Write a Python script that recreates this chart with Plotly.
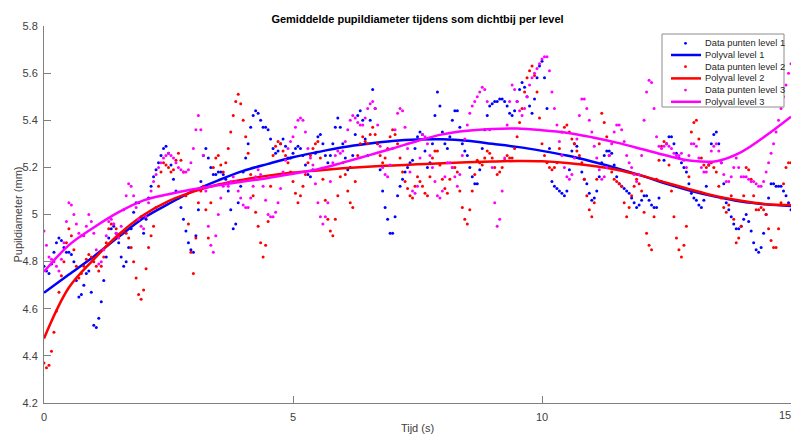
import plotly.graph_objects as go

# ---------------- data ----------------
time_s = [round(i * 0.05, 2) for i in range(301)]

level1_points = [
    4.78, 4.76, 4.75, 4.79, 4.84, 4.88, 4.90, 4.89, 4.86, 4.84,
    4.84, 4.83, 4.80, 4.72, 4.65, 4.66, 4.70, 4.75, 4.76, 4.67,
    4.53, 4.52, 4.56, 4.63, 4.72, 4.82, 4.90, 4.94, 4.95, 4.92,
    4.88, 4.82, 4.78, 4.80, 4.86, 4.94, 5.01, 5.05, 5.05, 4.99,
    4.92, 4.98, 5.07, 5.12, 5.16, 5.19, 5.22, 5.25, 5.28, 5.29,
    5.26, 5.21, 5.15, 5.10, 5.07, 5.03, 4.98, 4.93, 4.88, 4.85,
    4.84, 4.91, 5.02, 5.14, 5.25, 5.28, 5.24, 5.20, 5.17, 5.17,
    5.18, 5.18, 5.17, 5.15, 5.10, 5.02, 4.94, 4.96, 5.05, 5.12,
    5.18, 5.24, 5.30, 5.37, 5.42, 5.44, 5.43, 5.40, 5.37, 5.37,
    5.36, 5.32, 5.28, 5.26, 5.27, 5.30, 5.32, 5.29, 5.24, 5.24,
    5.26, 5.28, 5.29, 5.28, 5.25, 5.21, 5.17, 5.16, 5.19, 5.26,
    5.33, 5.34, 5.30, 5.25, 5.22, 5.25, 5.30, 5.37, 5.41, 5.37,
    5.30, 5.24, 5.19, 5.20, 5.25, 5.34, 5.42, 5.44, 5.40, 5.32,
    5.25, 5.40, 5.53, 5.45, 5.30, 5.19, 5.10, 5.03, 4.98, 4.92,
    4.92, 4.99, 5.08, 5.12, 5.15, 5.18, 5.20, 5.22, 5.23, 5.28,
    5.33, 5.35, 5.34, 5.27, 5.20, 5.22, 5.30, 5.42, 5.52, 5.46,
    5.35, 5.30, 5.28, 5.33, 5.40, 5.44, 5.44, 5.37, 5.30, 5.27,
    5.25, 5.20, 5.16, 5.13, 5.13, 5.19, 5.28, 5.36, 5.42, 5.46,
    5.47, 5.48, 5.48, 5.49, 5.49, 5.48, 5.46, 5.43, 5.42, 5.44,
    5.48, 5.53, 5.56, 5.54, 5.50, 5.46, 5.43, 5.49, 5.58, 5.63,
    5.65, 5.58, 5.45, 5.28, 5.14, 5.12, 5.11, 5.10, 5.09, 5.08,
    5.10, 5.19, 5.27, 5.30, 5.29, 5.24, 5.18, 5.15, 5.13, 5.09,
    5.06, 5.07, 5.10, 5.16, 5.22, 5.25, 5.27, 5.27, 5.26, 5.21,
    5.16, 5.13, 5.12, 5.11, 5.10, 5.09, 5.07, 5.05, 5.03, 5.04,
    5.06, 5.08, 5.08, 5.06, 5.04, 5.03, 5.03, 5.07, 5.14, 5.23,
    5.30, 5.33, 5.33, 5.30, 5.26, 5.24, 5.22, 5.20, 5.18, 5.13,
    5.09, 5.07, 5.06, 5.04, 5.03, 5.06, 5.12, 5.21, 5.30, 5.34,
    5.35, 5.30, 5.22, 5.13, 5.05, 5.02, 4.99, 4.96, 4.94, 4.94,
    4.95, 4.98, 5.00, 4.97, 4.93, 4.88, 4.85, 4.84, 4.86, 4.92,
    5.00, 5.07, 5.13, 5.13, 5.12, 5.12, 5.12, 5.10, 5.08, 5.05,
    5.02,
]

level2_points = [
    4.37, 4.35, 4.36, 4.42, 4.50, 4.59, 4.67, 4.74, 4.80, 4.88,
    4.94, 4.91, 4.85, 4.78, 4.73, 4.75, 4.78, 4.81, 4.83, 4.82,
    4.80, 4.78, 4.76, 4.78, 4.82, 4.88, 4.94, 4.96, 4.96, 4.94,
    4.91, 4.92, 4.93, 4.92, 4.90, 4.86, 4.80, 4.73, 4.66, 4.64,
    4.68, 4.77, 4.86, 4.91, 4.95, 5.03, 5.12, 5.18, 5.22, 5.21,
    5.20, 5.18, 5.19, 5.23, 5.26, 5.23, 5.18, 5.08, 4.96, 4.84,
    4.75, 4.90, 5.05, 5.10, 5.12, 5.02, 4.90, 5.05, 5.20, 5.24,
    5.25, 5.21, 5.18, 5.22, 5.28, 5.35, 5.42, 5.48, 5.51, 5.47,
    5.40, 5.33, 5.26, 5.17, 5.08, 5.01, 4.95, 4.88, 4.82, 4.87,
    4.97, 5.12, 5.25, 5.29, 5.31, 5.30, 5.27, 5.25, 5.22, 5.18,
    5.14, 5.09, 5.05, 5.08, 5.12, 5.17, 5.22, 5.25, 5.28, 5.30,
    5.31, 5.24, 5.15, 5.06, 4.98, 4.93, 4.91, 4.98, 5.08, 5.16,
    5.22, 5.17, 5.10, 5.05, 5.03, 5.14, 5.25, 5.30, 5.33, 5.31,
    5.30, 5.34, 5.37, 5.34, 5.30, 5.25, 5.22, 5.24, 5.28, 5.33,
    5.36, 5.34, 5.30, 5.24, 5.18, 5.14, 5.11, 5.08, 5.07, 5.12,
    5.16, 5.14, 5.12, 5.09, 5.08, 5.16, 5.24, 5.27, 5.27, 5.21,
    5.15, 5.11, 5.09, 5.15, 5.20, 5.20, 5.18, 5.10, 5.03, 4.98,
    4.96, 5.02, 5.10, 5.17, 5.23, 5.22, 5.21, 5.24, 5.27, 5.26,
    5.24, 5.20, 5.17, 5.18, 5.20, 5.23, 5.25, 5.24, 5.24, 5.28,
    5.33, 5.39, 5.45, 5.52, 5.58, 5.61, 5.63, 5.59, 5.52, 5.41,
    5.30, 5.25, 5.22, 5.20, 5.19, 5.20, 5.22, 5.28, 5.35, 5.37,
    5.38, 5.35, 5.32, 5.30, 5.27, 5.25, 5.22, 5.15, 5.08, 5.02,
    4.99, 5.05, 5.15, 5.30, 5.43, 5.39, 5.33, 5.25, 5.18, 5.15,
    5.14, 5.13, 5.12, 5.05, 4.99, 5.03, 5.08, 5.12, 5.15, 5.13,
    5.10, 5.01, 4.92, 4.87, 4.85, 4.99, 5.15, 5.23, 5.29, 5.31,
    5.30, 5.21, 5.10, 4.99, 4.90, 4.85, 4.82, 4.87, 4.95, 5.16,
    5.35, 5.39, 5.40, 5.32, 5.24, 5.21, 5.20, 5.21, 5.22, 5.20,
    5.18, 5.12, 5.07, 5.03, 5.01, 5.04, 5.08, 4.98, 4.88, 4.90,
    4.95, 5.08, 5.20, 5.19, 5.15, 5.08, 5.02, 5.02, 5.03, 5.02,
    5.00, 4.94, 4.89, 4.86, 4.86, 4.94, 5.05, 5.13, 5.20, 5.22,
    5.22,
]

level3_points = [
    4.93, 4.87, 4.82, 4.81, 4.80, 4.78, 4.76, 4.81, 4.88, 4.97,
    5.05, 5.04, 5.00, 4.96, 4.92, 4.91, 4.91, 4.95, 5.00, 4.97,
    4.92, 4.85, 4.79, 4.80, 4.85, 4.91, 4.97, 4.98, 4.96, 4.92,
    4.90, 4.95, 5.02, 5.08, 5.13, 5.12, 5.08, 5.03, 4.98, 4.95,
    4.94, 4.99, 5.05, 5.10, 5.14, 5.17, 5.20, 5.22, 5.24, 5.25,
    5.26, 5.25, 5.24, 5.22, 5.20, 5.19, 5.18, 5.18, 5.19, 5.22,
    5.28, 5.36, 5.42, 5.36, 5.25, 5.10, 4.95, 4.87, 4.84, 4.91,
    5.00, 5.07, 5.12, 5.13, 5.12, 5.14, 5.16, 5.14, 5.10, 5.07,
    5.04, 5.03, 5.03, 5.07, 5.12, 5.16, 5.19, 5.17, 5.12, 5.06,
    5.00, 4.99, 4.99, 5.01, 5.05, 5.11, 5.18, 5.23, 5.28, 5.31,
    5.33, 5.37, 5.40, 5.41, 5.40, 5.35, 5.28, 5.24, 5.21, 5.13,
    5.05, 4.99, 4.96, 4.99, 5.05, 5.14, 5.22, 5.25, 5.27, 5.26,
    5.27, 5.31, 5.36, 5.40, 5.42, 5.41, 5.39, 5.38, 5.38, 5.41,
    5.45, 5.47, 5.48, 5.45, 5.38, 5.29, 5.20, 5.17, 5.16, 5.21,
    5.28, 5.36, 5.43, 5.45, 5.44, 5.37, 5.28, 5.18, 5.10, 5.09,
    5.12, 5.24, 5.34, 5.33, 5.30, 5.25, 5.20, 5.14, 5.08, 5.07,
    5.10, 5.16, 5.22, 5.22, 5.20, 5.16, 5.12, 5.17, 5.25, 5.32,
    5.38, 5.43, 5.46, 5.48, 5.50, 5.52, 5.54, 5.53, 5.48, 5.36,
    5.20, 5.05, 4.95, 4.98, 5.10, 5.24, 5.38, 5.48, 5.55, 5.53,
    5.48, 5.44, 5.42, 5.45, 5.50, 5.55, 5.58, 5.60, 5.62, 5.64,
    5.66, 5.67, 5.67, 5.61, 5.52, 5.45, 5.38, 5.31, 5.25, 5.20,
    5.16, 5.15, 5.17, 5.24, 5.32, 5.42, 5.49, 5.49, 5.45, 5.40,
    5.35, 5.29, 5.24, 5.19, 5.15, 5.16, 5.20, 5.25, 5.30, 5.35,
    5.38, 5.38, 5.36, 5.31, 5.25, 5.22, 5.20, 5.17, 5.14, 5.17,
    5.25, 5.40, 5.52, 5.57, 5.56, 5.45, 5.33, 5.29, 5.28, 5.29,
    5.30, 5.29, 5.28, 5.26, 5.25, 5.25, 5.26, 5.23, 5.20, 5.25,
    5.30, 5.30, 5.29, 5.24, 5.20, 5.18, 5.18, 5.22, 5.27, 5.29,
    5.30, 5.27, 5.22, 5.17, 5.14, 5.14, 5.16, 5.20, 5.24, 5.20,
    5.16, 5.16, 5.16, 5.15, 5.14, 5.14, 5.13, 5.12, 5.12, 5.14,
    5.18, 5.22, 5.26, 5.30, 5.35, 5.40, 5.45, 5.50, 5.55, 5.60,
    5.64,
]

# polyval curves read at 0.5 s steps
fit_time = [i * 0.5 for i in range(31)]
level1_fit = [4.668, 4.745, 4.822, 4.905, 4.985, 5.045, 5.100, 5.145, 5.185, 5.215,
              5.243, 5.265, 5.285, 5.300, 5.312, 5.318, 5.319, 5.313, 5.300, 5.287,
              5.270, 5.250, 5.225, 5.197, 5.165, 5.130, 5.100, 5.075, 5.055, 5.043, 5.036]
level2_fit = [4.474, 4.690, 4.810, 4.915, 4.998, 5.057, 5.097, 5.127, 5.148, 5.165,
              5.178, 5.187, 5.196, 5.203, 5.208, 5.213, 5.218, 5.222, 5.225, 5.227,
              5.226, 5.219, 5.207, 5.190, 5.165, 5.135, 5.105, 5.078, 5.058, 5.044, 5.040]
level3_fit = [4.757, 4.870, 4.945, 5.010, 5.060, 5.086, 5.107, 5.124, 5.140, 5.155,
              5.173, 5.192, 5.220, 5.250, 5.280, 5.312, 5.340, 5.355, 5.363, 5.365,
              5.358, 5.347, 5.328, 5.305, 5.278, 5.250, 5.228, 5.226, 5.265, 5.335, 5.415]

x_ticks = [0, 5, 10, 15]
x_ticklabels = ["0", "5", "10", "15"]
y_ticks = [4.2, 4.4, 4.6, 4.8, 5.0, 5.2, 5.4, 5.6, 5.8]
y_ticklabels = ["4.2", "4.4", "4.6", "4.8", "5", "5.2", "5.4", "5.6", "5.8"]

series_names = ["Data punten level 1", "Polyval level 1",
                "Data punten level 2", "Polyval level 2",
                "Data punten level 3", "Polyval level 3"]
level_colors = ["#0000ff", "#ff0000", "#ff00ff"]

# ---------------- figure ----------------
W, H = 794, 438
L, R, T, B = 44, 3, 26, 35
PW, PH = W - L - R, H - T - B


def fx(px):
    return (px - L) / PW


def fy(py):
    return (H - B - py) / PH


fig = go.Figure()
points = [level1_points, level2_points, level3_points]
fits = [level1_fit, level2_fit, level3_fit]
for i in range(3):
    fig.add_trace(go.Scatter(
        x=time_s, y=points[i], mode="markers", name=series_names[2 * i],
        marker=dict(color=level_colors[i], size=3, line=dict(width=0)),
        showlegend=False, hoverinfo="skip"))
    fig.add_trace(go.Scatter(
        x=fit_time, y=fits[i], mode="lines", name=series_names[2 * i + 1],
        line=dict(color=level_colors[i], width=2.5, shape="spline", smoothing=1.0),
        showlegend=False, hoverinfo="skip"))

axis_col = "#808080"
text_col = "#404040"
font_fam = "Liberation Sans, Arial, Helvetica, sans-serif"

# the last x tick label sits at the page edge; it is drawn as an annotation kept inside the page
shown_x_text = [t if v != x_ticks[-1] else "" for v, t in zip(x_ticks, x_ticklabels)]

fig.update_layout(
    width=W, height=H,
    margin=dict(l=L, r=R, t=T, b=B, pad=0),
    paper_bgcolor="white", plot_bgcolor="white",
    font=dict(family=font_fam, size=11, color=text_col),
    title=dict(text="<b>Gemiddelde pupildiameter tijdens som dichtbij per level</b>",
               font=dict(size=11, color="black", family=font_fam),
               x=fx(417.5), xref="paper", xanchor="center",
               y=1 - 19 / H, yref="container", yanchor="middle"),
    xaxis=dict(range=[0, 15], tickvals=x_ticks, ticktext=shown_x_text,
               showline=True, linecolor=axis_col, linewidth=1,
               ticks="inside", ticklen=7, tickcolor=axis_col, tickwidth=1,
               showgrid=False, zeroline=False, mirror=False,
               ticklabelstandoff=4, automargin=False,
               tickfont=dict(size=11, color=text_col),
               title=dict(text="Tijd (s)", font=dict(size=11, color=text_col), standoff=2)),
    yaxis=dict(range=[4.2, 5.8], tickvals=y_ticks, ticktext=y_ticklabels,
               showline=True, linecolor=axis_col, linewidth=1,
               ticks="inside", ticklen=7, tickcolor=axis_col, tickwidth=1,
               showgrid=False, zeroline=False, mirror=False,
               ticklabelstandoff=3, automargin=False,
               tickfont=dict(size=11, color=text_col)),
    showlegend=False,
)

# ---------------- legend (drawn box) ----------------
shapes = [dict(type="rect", xref="paper", yref="paper",
               x0=fx(662), x1=fx(784), y0=fy(107), y1=fy(34),
               fillcolor="white", line=dict(color="#8c8c8c", width=1), layer="above")]
annotations = [
    dict(text="Pupildiameter (mm)", xref="paper", yref="paper",
         x=fx(17), y=0.5, xanchor="center", yanchor="middle",
         textangle=-90, showarrow=False,
         font=dict(size=11, color=text_col, family=font_fam)),
    dict(text=x_ticklabels[-1], xref="paper", yref="paper",
         x=fx(793), y=fy(415), xanchor="right", yanchor="middle",
         showarrow=False, font=dict(size=11, color=text_col, family=font_fam)),
]
row_y0, row_dy = 43.3, 11.7
for k, name in enumerate(series_names):
    py = row_y0 + k * row_dy
    col = level_colors[k // 2]
    if k % 2 == 0:
        r_x, r_y = 1.4 / PW, 1.4 / PH
        shapes.append(dict(type="circle", xref="paper", yref="paper",
                           x0=fx(685.5) - r_x, x1=fx(685.5) + r_x,
                           y0=fy(py) - r_y, y1=fy(py) + r_y,
                           fillcolor=col, line=dict(width=0), layer="above"))
    else:
        shapes.append(dict(type="line", xref="paper", yref="paper",
                           x0=fx(671), x1=fx(701), y0=fy(py), y1=fy(py),
                           line=dict(color=col, width=2.5), layer="above"))
    annotations.append(dict(text=name, xref="paper", yref="paper",
                            x=fx(702.5), y=fy(py), xanchor="left", yanchor="middle",
                            showarrow=False, font=dict(size=9.3, color="#262626", family=font_fam)))

fig.update_layout(shapes=shapes, annotations=annotations)

fig.write_html("out.html", config={"displayModeBar": False})
